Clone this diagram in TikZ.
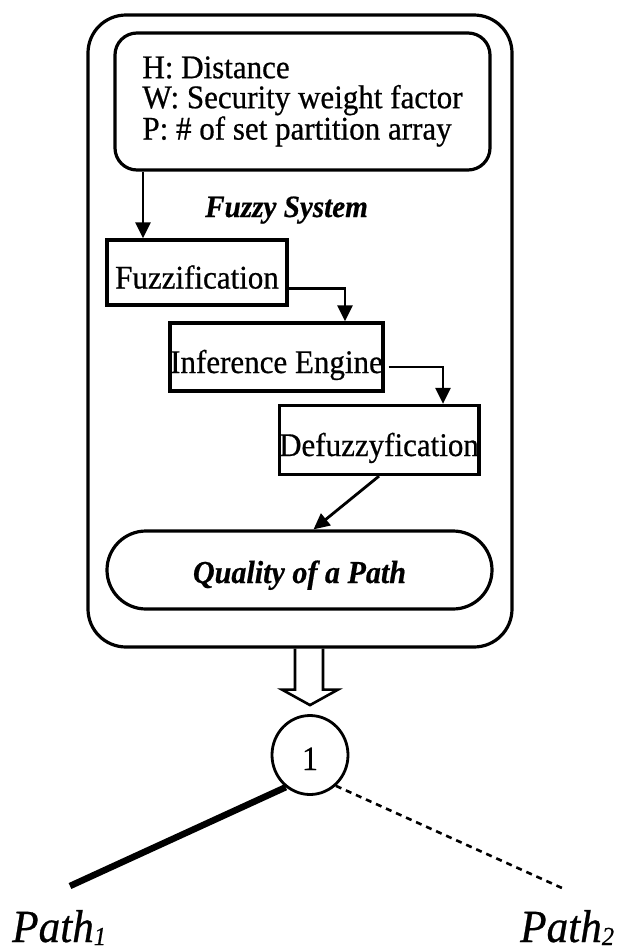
\documentclass[tikz,border=0pt]{standalone}
\usepackage{fontspec}
\setmainfont{Liberation Serif}[FakeStretch=0.94,FakeBold=0.6]
\usetikzlibrary{arrows.meta,shapes.geometric,calc}

\tikzset{
  body/.style={font=\fontsize{33}{30}\selectfont},
  frame/.style={draw,line width=3.2pt,rounded corners=38pt,inner sep=0pt},
  infobox/.style={draw,line width=3.2pt,rounded corners=22pt,inner sep=0pt,align=left,body},
  stagebox/.style={draw,line width=3.2pt,inner sep=0pt,body,text height=32pt,text depth=0pt},
  outcome/.style={draw,line width=3.2pt,rounded corners=39pt,inner sep=0pt,
    font=\fontsize{32}{30}\selectfont\bfseries\itshape,text height=26pt,text depth=0pt},
  flow/.style={line width=2.8pt,-{Triangle[length=16pt,width=15pt]}},
  decision/.style={draw,ellipse,line width=2.8pt,inner sep=0pt,minimum width=76pt,minimum height=79pt,
    font=\fontsize{34}{34}\selectfont,text height=30pt,text depth=0pt},
  pathlabel/.style={font=\fontsize{46}{46}\selectfont\itshape,inner sep=0pt,anchor=base west},
}

\begin{document}
\begin{tikzpicture}[x=1pt,y=-1pt]
\useasboundingbox (0,0) rectangle (627,951);

% fuzzy system enclosure
\node[frame,minimum width=424pt,minimum height=632pt] (sys) at (300,331) {};

% input variables
\node[infobox,minimum width=375pt,minimum height=137pt] (inp) at (302.5,101.5)
  {H: Distance\\W: Security weight factor\\P: \# of set partition array};

\node[font=\fontsize{31}{30}\selectfont\bfseries\itshape,inner sep=0pt,anchor=base west] (fstitle) at (205,217) {Fuzzy System};

% processing stages
\node[stagebox,minimum width=180pt,minimum height=65pt] (fz) at (197,272.5) {Fuzzification};
\node[stagebox,minimum width=213pt,minimum height=68pt] (inf) at (276.5,357) {Inference Engine};
\node[stagebox,minimum width=198pt,minimum height=69pt] (dfz) at (379,440) {Defuzzyfication};

% output
\node[outcome,minimum width=385pt,minimum height=78pt] (q) at (299.5,570) {Quality of a Path};

% stage connectors
\draw[flow] ([xshift=-54pt]fz.north |- inp.south) -- ([xshift=-54pt]fz.north);
\draw[flow] ([yshift=-16pt]fz.east) -| ([xshift=68.5pt]inf.north);
\draw[flow] ([yshift=-10pt,xshift=4pt]inf.east) -| ([xshift=64pt]dfz.north);
\draw[flow] (dfz.south) -- ([xshift=14pt]q.north);

% decision node
\node[decision] (n1) at (310,755) {1};

% hollow block arrow from the system to the decision node
\coordinate (ha) at (sys.south -| n1.north);
\draw[line width=2.6pt,line join=miter]
  ($(ha)+(-15,0)$) -- ++(0,41) -- ++(-13,0) -- ($(n1.north)+(0,-9)$)
  -- ($(ha)+(28,41)$) -- ++(-15,0) -- ($(ha)+(13,0)$);

% branches
\coordinate (e1) at (70,886);
\coordinate (e2) at (562,888);
\draw[line width=6.5pt] (n1.233) -- (e1);
\draw[line width=2.6pt,dash pattern=on 6pt off 5pt] (n1.310) -- (e2);

\node[pathlabel] (p1) at (12,942) {Path\raisebox{-3pt}{\fontsize{26}{26}\selectfont 1}};
\node[pathlabel] (p2) at (520,942) {Path\raisebox{-3pt}{\fontsize{26}{26}\selectfont 2}};
\end{tikzpicture}
\end{document}
